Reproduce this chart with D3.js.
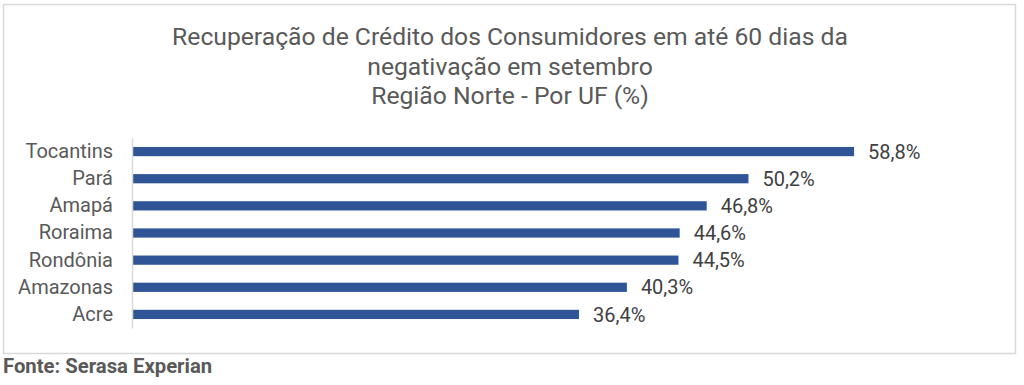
<!DOCTYPE html>
<html><head><meta charset="utf-8">
<script src="https://cdn.jsdelivr.net/npm/d3@7"></script>
<style>body{margin:0;background:#fff;} svg{display:block;font-family:Roboto,"Liberation Sans",sans-serif;}</style>
</head><body>
<svg id="c" width="1024" height="385"></svg>
<script>
const categories = ["Tocantins","Pará","Amapá","Roraima","Rondônia","Amazonas","Acre"];
const values = [58.8,50.2,46.8,44.6,44.5,40.3,36.4];
const valueLabels = ["58,8%","50,2%","46,8%","44,6%","44,5%","40,3%","36,4%"];
const titleLines = ["Recuperação de Crédito dos Consumidores em até 60 dias da","negativação em setembro","Região Norte - Por UF (%)"];
const source = "Fonte: Serasa Experian";

const svg = d3.select("#c");
svg.append("rect").attr("x",3.5).attr("y",4.5).attr("width",1012).attr("height",349)
  .attr("fill","#fff").attr("stroke","#d9d9d9").attr("stroke-width",1.5);

const tl = svg.append("text").attr("text-anchor","middle").attr("fill","#595959").attr("font-size",24.7);
const titleY = [45,74.5,104];
titleLines.forEach((t,i)=>tl.append("tspan").attr("x",510).attr("y",titleY[i]).text(t));

const x = d3.scaleLinear().domain([0,60]).range([132,132+60*12.28]);
const y = d3.scaleBand().domain(categories).range([138,328]).paddingInner(0.66).paddingOuter(0.33);

svg.selectAll("rect.bar").data(values).join("rect").attr("class","bar")
  .attr("x",x(0)).attr("y",(d,i)=>y(categories[i]))
  .attr("width",d=>x(d)-x(0)).attr("height",y.bandwidth()).attr("fill","#2F5597");

const ax = svg.append("g").attr("transform",`translate(${x(0)},0)`).call(d3.axisLeft(y).tickSize(0).tickPadding(19));
ax.select(".domain").attr("stroke","#d9d9d9").attr("stroke-width",1.5);
ax.selectAll("text").attr("font-size",20).attr("fill","#595959").attr("font-family","Roboto,sans-serif");

svg.selectAll("text.vl").data(values).join("text").attr("class","vl")
  .attr("x",d=>x(d)+14).attr("y",(d,i)=>y(categories[i])+y.bandwidth()/2)
  .attr("dy","0.36em").attr("font-size",20).attr("fill","#404040").text((d,i)=>valueLabels[i]);

svg.append("text").attr("x",3).attr("y",373).attr("font-size",20.3).attr("font-weight","bold")
  .attr("fill","#595959").text(source);
</script>
</body></html>
